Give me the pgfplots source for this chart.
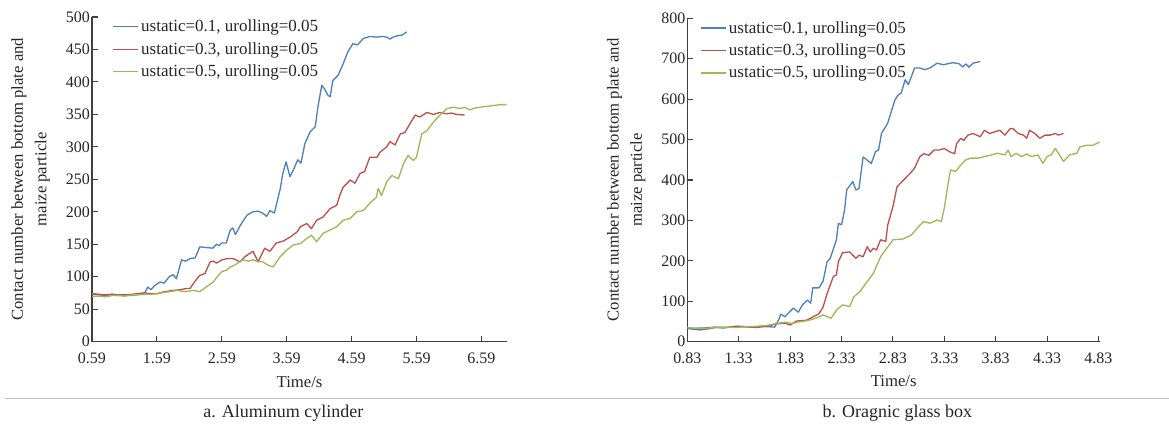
\documentclass[border=0pt]{standalone}
\usepackage{fontspec}
\setmainfont{Liberation Serif}
\usepackage{pgfplots}
\pgfplotsset{compat=1.18}
\definecolor{cblue}{HTML}{4F81BD}
\definecolor{cred}{HTML}{C0504D}
\definecolor{cgreen}{HTML}{9BBB59}
\definecolor{axcol}{HTML}{404040}
\pgfplotsset{mystyle/.style={
  scale only axis,
  axis x line*=bottom, axis y line*=left,
  axis line style={line width=1pt, color=axcol},
  tick style={line width=0.8pt, color=axcol},
  tick align=inside,
  major tick length=4.5pt,
  ymin=0,
  /pgf/number format/assume math mode=true,
  tick label style={font=\fontsize{12}{14}\selectfont, color=black!85},
  xticklabel style={yshift=-5pt},
  yticklabel style={xshift=2pt},
  label style={font=\fontsize{12.5}{17.5}\selectfont, color=black!85},
  ylabel style={at={(axis description cs:-0.148,0.5)}, anchor=center, align=center, rotate=0},
  xlabel style={at={(axis description cs:0.5,-0.123)}, anchor=center},
  legend style={draw=none, fill=none, font=\fontsize{12.75}{15}\selectfont, text=black!85,
    anchor=north west, inner sep=0pt, row sep=2.5pt,
    /tikz/every even column/.append style={column sep=0pt}},
  legend cell align=left,
  legend image code/.code={\draw[#1, line width=1pt] (0pt,0pt) -- (18.75pt,0pt);},
  every axis plot/.append style={line width=1pt, line join=round, mark=none},
}}
\begin{document}
\begin{tikzpicture}
\useasboundingbox (0,0) rectangle (876.75pt,318.75pt);
% ---------- left ----------
\begin{axis}[mystyle,
  at={(69pt,62.5pt)}, anchor=south west,
  width=311.25pt, height=243.5pt,
  xmin=0.59, xmax=6.984, ymax=500,
  xtick={0.59,1.59,2.59,3.59,4.59,5.59,6.59},
  xticklabels={0.59,1.59,2.59,3.59,4.59,5.59,6.59},
  ytick={0,50,100,150,200,250,300,350,400,450,500},
  xlabel={Time/s},
  ylabel={Contact number between bottom plate and\\maize particle},
  legend style={at={(axis description cs:0.048,1.0)}},
]
\addplot[cblue] coordinates {
(0.59,73) (0.70,72) (0.80,71) (0.90,73) (1.00,71) (1.10,72) (1.20,71) (1.30,73) (1.40,75)
(1.45,84) (1.50,80) (1.55,86) (1.64,92) (1.70,90) (1.78,100) (1.84,103) (1.89,97) (1.97,126)
(2.03,124) (2.10,128) (2.18,129) (2.25,146) (2.35,145) (2.45,144) (2.51,150) (2.55,148)
(2.59,152) (2.66,152) (2.72,172) (2.76,175) (2.80,165) (2.88,180) (2.98,195) (3.07,200)
(3.15,201) (3.22,198) (3.28,193) (3.33,202) (3.40,198) (3.46,223) (3.49,235) (3.53,259)
(3.58,277) (3.64,254) (3.69,264) (3.76,280) (3.81,275) (3.87,305) (3.95,323) (4.03,331)
(4.07,361) (4.13,395) (4.18,388) (4.22,380) (4.26,377) (4.30,402) (4.38,410) (4.46,428)
(4.53,446) (4.61,459) (4.68,457) (4.77,467) (4.87,470) (4.97,469) (5.07,470) (5.13,469)
(5.18,466) (5.23,469) (5.29,471) (5.36,472) (5.44,477)
};
\addlegendentry{ustatic=0.1, urolling=0.05}
\addplot[cred] coordinates {
(0.59,74) (0.70,73) (0.80,72) (0.90,73) (1.00,72) (1.10,72) (1.20,73) (1.30,74) (1.40,75)
(1.50,74) (1.60,74) (1.70,77) (1.78,78) (1.84,79) (1.95,80) (2.05,82) (2.10,82) (2.17,92)
(2.25,102) (2.33,105) (2.41,123) (2.46,124) (2.51,121) (2.59,126) (2.68,128) (2.76,128)
(2.87,123) (2.95,131) (3.02,136) (3.07,139) (3.15,123) (3.25,144) (3.33,139) (3.43,152)
(3.54,155) (3.64,161) (3.75,169) (3.80,177) (3.90,182) (3.97,174) (4.05,187) (4.15,192)
(4.26,205) (4.36,210) (4.41,226) (4.46,238) (4.57,249) (4.64,244) (4.72,259) (4.79,262)
(4.87,284) (4.98,284) (5.03,292) (5.13,300) (5.18,308) (5.26,303) (5.34,320) (5.41,322)
(5.49,336) (5.57,349) (5.64,346) (5.75,353) (5.85,350) (5.95,353) (6.05,351) (6.13,352)
(6.21,350) (6.33,349)
};
\addlegendentry{ustatic=0.3, urolling=0.05}
\addplot[cgreen] coordinates {
(0.59,70) (0.70,70) (0.80,69) (0.90,71) (1.00,71) (1.10,70) (1.20,72) (1.30,72) (1.40,73)
(1.50,73) (1.60,74) (1.70,76) (1.80,77) (1.90,79) (2.02,77) (2.15,79) (2.25,77) (2.36,85)
(2.46,92) (2.52,100) (2.59,108) (2.66,110) (2.72,115) (2.79,118) (2.85,122) (2.92,126)
(3.00,124) (3.07,126) (3.15,123) (3.22,123) (3.30,118) (3.38,115) (3.49,131) (3.59,141)
(3.69,149) (3.80,151) (3.90,159) (3.97,164) (4.05,154) (4.15,167) (4.26,172) (4.36,177)
(4.46,187) (4.57,190) (4.67,200) (4.77,202) (4.87,213) (4.92,218) (4.97,222) (5.00,236)
(5.05,225) (5.13,246) (5.21,256) (5.31,251) (5.39,274) (5.46,287) (5.54,279) (5.59,284)
(5.67,320) (5.75,325) (5.85,338) (5.95,349) (6.06,359) (6.16,361) (6.26,359) (6.33,361)
(6.41,357) (6.50,360) (6.57,361) (6.72,363) (6.88,365) (6.98,365)
};
\addlegendentry{ustatic=0.5, urolling=0.05}
\end{axis}
% ---------- right ----------
\begin{axis}[mystyle,
  at={(515.5pt,62.5pt)}, anchor=south west,
  width=309.5pt, height=242.55pt,
  xmin=0.83, xmax=4.845, ymax=800,
  xtick={0.83,1.33,1.83,2.33,2.83,3.33,3.83,4.33,4.83},
  xticklabels={0.83,1.33,1.83,2.33,2.83,3.33,3.83,4.33,4.83},
  ytick={0,100,200,300,400,500,600,700,800},
  xlabel={Time/s},
  ylabel={Contact number between bottom plate and\\maize particle},
  legend style={at={(axis description cs:0.03,1.0)}},
]
\addplot[cblue] coordinates {
(0.83,33) (0.88,31) (0.95,29) (1.02,31) (1.10,35) (1.18,34) (1.25,36) (1.33,38) (1.40,37)
(1.48,36) (1.55,38) (1.62,37) (1.68,36) (1.72,55) (1.74,68) (1.78,62) (1.86,83) (1.91,73)
(1.95,91) (2.00,103) (2.03,95) (2.05,133) (2.11,133) (2.15,149) (2.19,198) (2.22,206)
(2.28,252) (2.30,293) (2.33,289) (2.36,326) (2.38,375) (2.41,386) (2.44,396) (2.47,375)
(2.50,379) (2.54,457) (2.58,449) (2.62,441) (2.66,470) (2.69,474) (2.72,516) (2.76,532)
(2.78,541) (2.82,574) (2.85,598) (2.88,610) (2.91,615) (2.95,648) (2.98,636) (3.01,656)
(3.04,677) (3.09,677) (3.14,673) (3.19,677) (3.26,689) (3.32,685) (3.41,690) (3.47,688)
(3.51,680) (3.54,687) (3.57,679) (3.61,689) (3.68,693)
};
\addlegendentry{ustatic=0.1, urolling=0.05}
\addplot[cred] coordinates {
(0.83,35) (0.90,33) (1.00,34) (1.10,36) (1.20,35) (1.30,38) (1.40,37) (1.50,35) (1.60,38)
(1.70,44) (1.78,46) (1.83,41) (1.89,51) (1.99,53) (2.05,61) (2.11,69) (2.15,85) (2.19,119)
(2.25,161) (2.28,165) (2.30,198) (2.34,220) (2.41,222) (2.47,206) (2.50,214) (2.54,210)
(2.58,235) (2.61,222) (2.64,231) (2.67,227) (2.71,252) (2.76,248) (2.78,289) (2.83,334)
(2.87,383) (2.90,391) (2.95,404) (3.00,417) (3.04,429) (3.09,457) (3.13,465) (3.18,461)
(3.23,474) (3.28,474) (3.33,478) (3.38,470) (3.43,465) (3.45,490) (3.49,503) (3.52,498)
(3.56,511) (3.61,515) (3.68,507) (3.72,523) (3.77,515) (3.82,519) (3.87,523) (3.92,511)
(3.97,527) (4.00,527) (4.05,515) (4.10,511) (4.13,503) (4.16,523) (4.21,515) (4.26,503)
(4.31,511) (4.36,511) (4.41,515) (4.44,511) (4.49,515)
};
\addlegendentry{ustatic=0.3, urolling=0.05}
\addplot[cgreen] coordinates {
(0.83,35) (0.90,33) (1.00,33) (1.10,35) (1.20,36) (1.30,35) (1.40,37) (1.50,38) (1.60,40)
(1.70,45) (1.78,48) (1.85,45) (1.92,49) (2.00,52) (2.08,58) (2.15,66) (2.23,58) (2.28,78)
(2.34,91) (2.41,87) (2.45,111) (2.51,124) (2.58,149) (2.64,169) (2.71,210) (2.77,231)
(2.83,252) (2.93,254) (3.01,264) (3.08,285) (3.13,297) (3.19,293) (3.26,301) (3.30,297)
(3.33,330) (3.36,380) (3.39,425) (3.44,421) (3.49,437) (3.54,450) (3.59,454) (3.66,454)
(3.72,458) (3.79,462) (3.85,466) (3.92,462) (3.95,474) (3.98,458) (4.03,466) (4.08,458)
(4.13,464) (4.18,458) (4.24,462) (4.29,441) (4.33,458) (4.37,462) (4.41,478) (4.44,466)
(4.49,446) (4.55,462) (4.62,466) (4.65,482) (4.72,486) (4.78,486) (4.84,494)
};
\addlegendentry{ustatic=0.5, urolling=0.05}
\end{axis}
% ---------- separator and captions ----------
\draw[line width=0.75pt, color=black!25] (3.75pt,20.25pt) -- (876.75pt,20.25pt);
\node[font=\fontsize{13.5}{16}\selectfont, color=black!85] at (212.5pt,9pt) {a. Aluminum cylinder};
\node[font=\fontsize{13.5}{16}\selectfont, color=black!85] at (673pt,9pt) {b. Oragnic glass box};
\end{tikzpicture}
\end{document}
